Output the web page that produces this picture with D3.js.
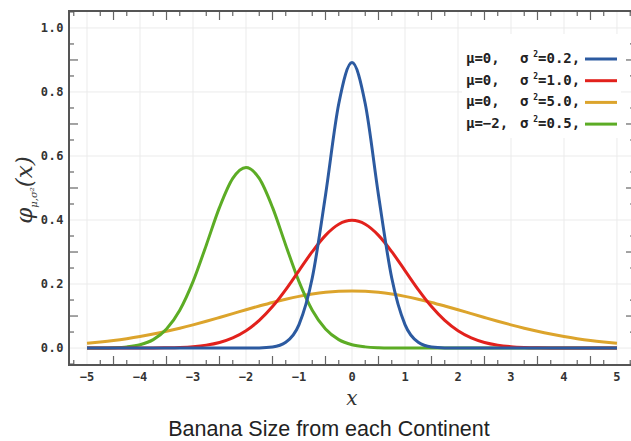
<!DOCTYPE html>
<html>
<head>
<meta charset="utf-8">
<script src="https://cdn.jsdelivr.net/npm/d3@7"></script>
<style>
    body { margin: 0; background: #fff; }
    .tick-label { font-family: "DejaVu Sans Mono", monospace; font-weight: bold; font-size: 12px; fill: #333; }
    .legend text { font-family: "DejaVu Sans Mono", monospace; font-weight: bold; font-size: 14px; fill: #222; }
</style>
</head>
<body>
<div id="chart"></div>
<script>
// sample positions along x, and curve heights
var xs = [-5, -4.75, -4.5, -4.25, -4, -3.75, -3.5, -3.25, -3, -2.75, -2.5, -2.25, -2,
          -1.75, -1.5, -1.25, -1, -0.75, -0.5, -0.25, 0, 0.25, 0.5, 0.75, 1,
          1.25, 1.5, 1.75, 2, 2.25, 2.5, 2.75, 3, 3.25, 3.5, 3.75, 4, 4.25, 4.5, 4.75, 5];

var blueVals = [0, 0, 0, 0, 0, 0, 0, 0, 0, 0, 0, 0, 0,
                0.0004, 0.0032, 0.0179, 0.0732, 0.2187, 0.4775, 0.7630, 0.8921,
                0.7630, 0.4775, 0.2187, 0.0732, 0.0179, 0.0032, 0.0004,
                0, 0, 0, 0, 0, 0, 0, 0, 0, 0, 0, 0, 0];

var redVals = [0, 0, 0, 0, 0.0001, 0.0004, 0.0009, 0.0020, 0.0044, 0.0091, 0.0175, 0.0317,
               0.0540, 0.0863, 0.1295, 0.1826, 0.2420, 0.3011, 0.3521, 0.3867, 0.3989,
               0.3867, 0.3521, 0.3011, 0.2420, 0.1826, 0.1295, 0.0863, 0.0540,
               0.0317, 0.0175, 0.0091, 0.0044, 0.0020, 0.0009, 0.0004, 0.0001, 0, 0, 0, 0];

var orangeVals = [0.0146, 0.0187, 0.0235, 0.0293, 0.0360, 0.0437, 0.0524, 0.0620, 0.0725,
                  0.0837, 0.0955, 0.1075, 0.1196, 0.1313, 0.1425, 0.1526, 0.1614, 0.1686,
                  0.1740, 0.1773, 0.1784, 0.1773, 0.1740, 0.1686, 0.1614, 0.1526, 0.1425,
                  0.1313, 0.1196, 0.1075, 0.0955, 0.0837, 0.0725, 0.0620, 0.0524, 0.0437,
                  0.0360, 0.0293, 0.0235, 0.0187, 0.0146];

var greenVals = [0.0001, 0.0003, 0.0011, 0.0036, 0.0103, 0.0264, 0.0595, 0.1183, 0.2076,
                 0.3215, 0.4394, 0.5300, 0.5642, 0.5300, 0.4394, 0.3215, 0.2076, 0.1183,
                 0.0595, 0.0264, 0.0103, 0.0036, 0.0011, 0.0003, 0.0001,
                 0, 0, 0, 0, 0, 0, 0, 0, 0, 0, 0, 0, 0, 0, 0, 0];

var legendMu = ["\u03bc=0,", "\u03bc=0,", "\u03bc=0,", "\u03bc=\u22122,"];
var legendVar = ["0.2", "1.0", "5.0", "0.5"];
var seriesColors = ["#2c5aa0", "#e2211c", "#dca42c", "#5cac25"];

var xTicks = [-5, -4, -3, -2, -1, 0, 1, 2, 3, 4, 5];
var yTicks = [0, 0.2, 0.4, 0.6, 0.8, 1.0];

var width = 631, height = 441;
var plot = {left: 69, top: 11, right: 635, bottom: 365};

var x = d3.scaleLinear()
        .domain([-5.34, 5.34])
        .range([plot.left, plot.right]);

var y = d3.scaleLinear()
        .domain([-0.053, 1.053])
        .range([plot.bottom, plot.top]);

var svg = d3.select("#chart").append("svg")
        .attr("width", width)
        .attr("height", height);

// grid
var grid = svg.append("g").attr("class", "grid");
grid.selectAll("line.gx")
        .data(xTicks)
        .enter().append("line")
        .attr("x1", function(d) { return x(d); })
        .attr("x2", function(d) { return x(d); })
        .attr("y1", plot.top)
        .attr("y2", plot.bottom)
        .attr("stroke", "#ebebeb")
        .attr("stroke-width", 1);
grid.selectAll("line.gy")
        .data(yTicks)
        .enter().append("line")
        .attr("x1", plot.left)
        .attr("x2", plot.right)
        .attr("y1", function(d) { return y(d); })
        .attr("y2", function(d) { return y(d); })
        .attr("stroke", "#ebebeb")
        .attr("stroke-width", 1);

// minor ticks: quarter steps on x, 0.05 steps on y (the gridded ones are skipped)
var xMinor = d3.range(-21, 22).map(function(i) { return i / 4; })
        .filter(function(v) { return v % 1 !== 0; });
var yMinor = d3.range(-1, 22).map(function(i) { return i / 20; })
        .filter(function(v) { return Math.round(v * 20) % 4 !== 0; });

function xTickLen(v) { return Math.abs(v * 2) % 2 === 1 ? 9 : 5; }
function yTickLen(v) { return Math.round(v * 20) % 2 === 0 ? 9 : 5; }

var ticks = svg.append("g").attr("stroke", "#666").attr("stroke-width", 1.2);
ticks.selectAll("line.xb")
        .data(xMinor)
        .enter().append("line")
        .attr("x1", function(d) { return x(d); })
        .attr("x2", function(d) { return x(d); })
        .attr("y1", plot.bottom)
        .attr("y2", function(d) { return plot.bottom - xTickLen(d); });
ticks.selectAll("line.xt")
        .data(xMinor)
        .enter().append("line")
        .attr("x1", function(d) { return x(d); })
        .attr("x2", function(d) { return x(d); })
        .attr("y1", plot.top)
        .attr("y2", function(d) { return plot.top + xTickLen(d); });
ticks.selectAll("line.yl")
        .data(yMinor)
        .enter().append("line")
        .attr("x1", plot.left)
        .attr("x2", function(d) { return plot.left + yTickLen(d); })
        .attr("y1", function(d) { return y(d); })
        .attr("y2", function(d) { return y(d); });
ticks.selectAll("line.yr")
        .data(yMinor)
        .enter().append("line")
        .attr("x1", plot.right)
        .attr("x2", function(d) { return plot.right - yTickLen(d); })
        .attr("y1", function(d) { return y(d); })
        .attr("y2", function(d) { return y(d); });

// frame
svg.append("rect")
        .attr("x", plot.left)
        .attr("y", plot.top)
        .attr("width", plot.right - plot.left)
        .attr("height", plot.bottom - plot.top)
        .attr("fill", "none")
        .attr("stroke", "#555")
        .attr("stroke-width", 2);

// tick labels
svg.selectAll("text.xl")
        .data(xTicks)
        .enter().append("text")
        .attr("class", "tick-label")
        .attr("x", function(d) { return x(d); })
        .attr("y", plot.bottom + 16)
        .style("text-anchor", "middle")
        .text(function(d) { return d < 0 ? "\u2212" + (-d) : d; });

svg.selectAll("text.yl")
        .data(yTicks)
        .enter().append("text")
        .attr("class", "tick-label")
        .attr("x", plot.left - 5)
        .attr("y", function(d) { return y(d) + 4; })
        .style("text-anchor", "end")
        .style("letter-spacing", "0.5px")
        .text(function(d) { return d3.format(".1f")(d); });

// curves
var series = [
    {vals: orangeVals, color: seriesColors[2]},
    {vals: greenVals, color: seriesColors[3]},
    {vals: redVals, color: seriesColors[1]},
    {vals: blueVals, color: seriesColors[0]}
];

var line = d3.line()
        .x(function(d) { return x(d[0]); })
        .y(function(d) { return y(d[1]); })
        .curve(d3.curveMonotoneX);

svg.selectAll("path.curve")
        .data(series)
        .enter().append("path")
        .attr("class", "curve")
        .attr("fill", "none")
        .attr("stroke", function(d) { return d.color; })
        .attr("stroke-width", 3)
        .attr("d", function(d) { return line(d3.zip(xs, d.vals)); });

// legend
var legend = svg.append("g").attr("class", "legend");
legend.append("rect")
        .attr("x", 462)
        .attr("y", 34)
        .attr("width", 159)
        .attr("height", 104)
        .attr("fill", "#fff");

var rows = legend.selectAll("g.row")
        .data(legendMu)
        .enter().append("g")
        .attr("transform", function(d, i) { return "translate(466," + (63 + i * 21.7) + ")"; });

rows.append("text")
        .attr("x", 0)
        .text(function(d) { return d; });

var sig = rows.append("text")
        .attr("x", 54);
sig.append("tspan").text("\u03c3");
sig.append("tspan")
        .attr("dy", -6)
        .style("font-size", "8px")
        .text(" 2");
sig.append("tspan")
        .attr("dy", 6)
        .text(function(d, i) { return "=" + legendVar[i] + ","; });

rows.append("line")
        .attr("x1", 119)
        .attr("x2", 151)
        .attr("y1", -4)
        .attr("y2", -4)
        .attr("stroke", function(d, i) { return seriesColors[i]; })
        .attr("stroke-width", 3);

// axis titles
svg.append("text")
        .attr("x", x(0))
        .attr("y", 405)
        .style("text-anchor", "middle")
        .style("font-family", "DejaVu Serif, serif")
        .style("font-style", "italic")
        .style("font-size", "20px")
        .attr("fill", "#333")
        .text("x");

var ylab = svg.append("text")
        .attr("transform", "translate(32,190) rotate(-90)")
        .style("text-anchor", "middle")
        .style("font-family", "DejaVu Serif, serif")
        .style("font-style", "italic")
        .style("font-size", "23px")
        .attr("fill", "#333");
ylab.append("tspan").text("\u03c6");
ylab.append("tspan")
        .attr("dy", 5)
        .style("font-size", "10px")
        .text("\u03bc,\u03c3\u00b2");
ylab.append("tspan")
        .attr("dy", -5)
        .text("(x)");

svg.append("text")
        .attr("x", 329)
        .attr("y", 436)
        .style("text-anchor", "middle")
        .style("font-family", "Liberation Sans, Arial, sans-serif")
        .style("font-size", "21.5px")
        .attr("fill", "#222")
        .text("Banana Size from each Continent");
</script>
</body>
</html>
